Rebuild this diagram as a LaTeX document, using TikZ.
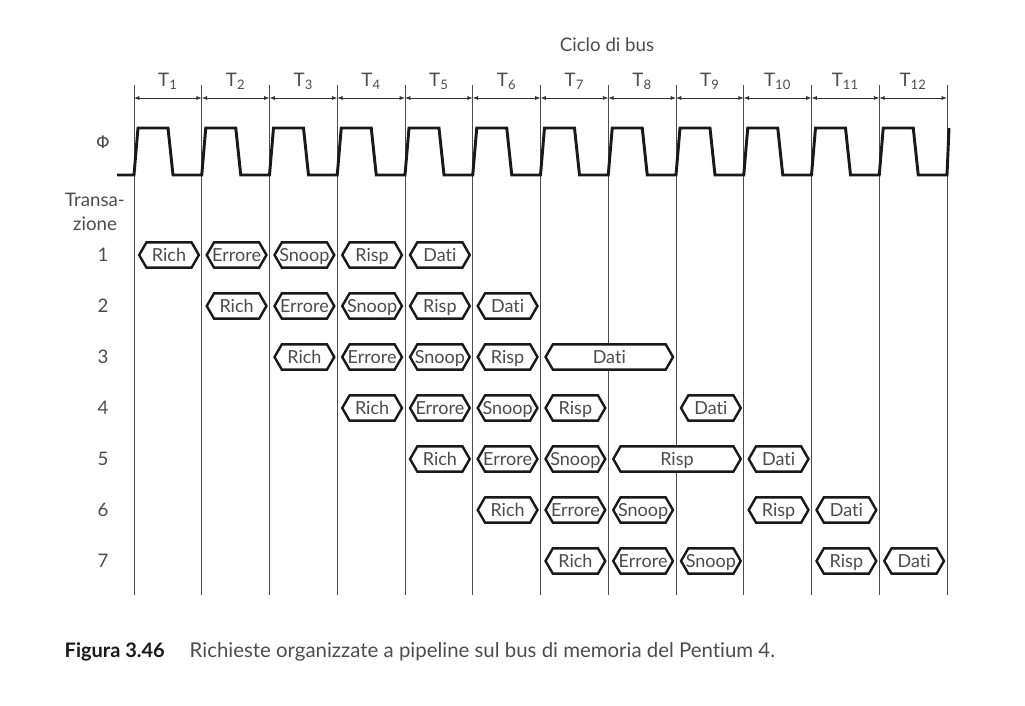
\documentclass[tikz,border=0pt]{standalone}
\usepackage{fontspec}
\setmainfont{Lato}[Ligatures=NoCommon]
\newfontfamily\greekfont{DejaVu Sans}
\usetikzlibrary{arrows.meta,shapes.symbols}

\begin{document}
\begin{tikzpicture}[x=0.75pt,y=-0.75pt,
   every node/.style={font=\fontsize{14}{17.5}\selectfont,text=black!70},
   tick/.style={line width=0.6pt,black!70},
   span/.style={{Latex[length=4pt,width=3pt]}-{Latex[length=4pt,width=3pt]},line width=0.5pt,black!80},
   clk/.style={line width=2.2pt,black!90,line join=miter},
   bus/.style={draw=black!90,fill=white,signal,signal to=east and west,
               signal pointer angle=120,line width=1.8pt,minimum height=19pt,inner sep=0pt,
               font=\fontsize{13.5}{16}\selectfont,text height=9.4pt,text depth=0pt,
               execute at begin node={\hbox to 0pt\bgroup\hss},
               execute at end node={\hss\egroup}},
   one/.style={bus,minimum width=44.8pt},
   two/.style={bus,minimum width=95.6pt}
]
\useasboundingbox (0,0) rectangle (1025,706);

% Bus cycles
\node (ciclo) at (607,45) {Ciclo di bus};
\foreach \i in {0,...,12} {
  \coordinate (top\i) at ({134+67.75*\i},85);
  \coordinate (bot\i) at ({134+67.75*\i},595);
  \coordinate (arr\i) at ({134+67.75*\i},98);
  \draw[tick] (top\i) -- (bot\i);
}
\foreach \i [count=\j] in {0,...,11} {
  \draw[span] (arr\i) -- (arr\j);
  \node (T\j) at ({134+67.75*(\i+0.5)},81) {T\textsubscript{\j}};
}

% Clock
\node (phi) at (103,142) {\greekfont\fontsize{13}{15}\selectfont Φ};
\draw[clk] (117,175) \foreach \i in {0,...,11} {
    -- ({134+67.75*\i},175) -- ({138+67.75*\i},128)
    -- ({168+67.75*\i},128) -- ({173+67.75*\i},175) }
  -- (947,175) -- (949,128);

% Transactions
\node[align=center] (trans) at (95,212) {Transa-\\zione};
\node (n1) at (103,255) {1};
\node (n2) at (103,306) {2};
\node (n3) at (103,357) {3};
\node (n4) at (103,408) {4};
\node (n5) at (103,459) {5};
\node (n6) at (103,510) {6};
\node (n7) at (103,561) {7};

% Transaction 1
\node[one] (r1rich) at (169,255) {Rich};
\node[one] (r1err)  at (236.6,255) {Errore};
\node[one] (r1snp)  at (304.4,255) {Snoop};
\node[one] (r1risp) at (372.1,255) {Risp};
\node[one] (r1dati) at (439.9,255) {Dati};

% Transaction 2
\node[one] (r2rich) at (236.6,306) {Rich};
\node[one] (r2err)  at (304.4,306) {Errore};
\node[one] (r2snp)  at (372.1,306) {Snoop};
\node[one] (r2risp) at (439.9,306) {Risp};
\node[one] (r2dati) at (507.6,306) {Dati};

% Transaction 3
\node[one] (r3rich) at (304.4,357) {Rich};
\node[one] (r3err)  at (372.1,357) {Errore};
\node[one] (r3snp)  at (439.9,357) {Snoop};
\node[one] (r3risp) at (507.6,357) {Risp};
\node[two] (r3dati) at (609.3,357) {Dati};

% Transaction 4
\node[one] (r4rich) at (372.1,408) {Rich};
\node[one] (r4err)  at (439.9,408) {Errore};
\node[one] (r4snp)  at (507.6,408) {Snoop};
\node[one] (r4risp) at (575.4,408) {Risp};
\node[one] (r4dati) at (710.9,408) {Dati};

% Transaction 5
\node[one] (r5rich) at (439.9,459) {Rich};
\node[one] (r5err)  at (507.6,459) {Errore};
\node[one] (r5snp)  at (575.4,459) {Snoop};
\node[two] (r5risp) at (677.0,459) {Risp};
\node[one] (r5dati) at (778.6,459) {Dati};

% Transaction 6
\node[one] (r6rich) at (507.6,510) {Rich};
\node[one] (r6err)  at (575.4,510) {Errore};
\node[one] (r6snp)  at (643.1,510) {Snoop};
\node[one] (r6risp) at (778.6,510) {Risp};
\node[one] (r6dati) at (846.4,510) {Dati};

% Transaction 7
\node[one] (r7rich) at (575.4,561) {Rich};
\node[one] (r7err)  at (643.1,561) {Errore};
\node[one] (r7snp)  at (710.9,561) {Snoop};
\node[one] (r7risp) at (846.4,561) {Risp};
\node[one] (r7dati) at (914.1,561) {Dati};

% Caption
\node[anchor=base west,font=\fontsize{15}{18}\selectfont\bfseries,text=black!90] (fig) at (60,657) {Figura 3.46};
\node[anchor=base west,font=\fontsize{15.3}{18}\selectfont,text=black!70] (cap) at (185,657)
  {Richieste organizzate a pipeline sul bus di memoria del Pentium 4.};
\end{tikzpicture}
\end{document}
